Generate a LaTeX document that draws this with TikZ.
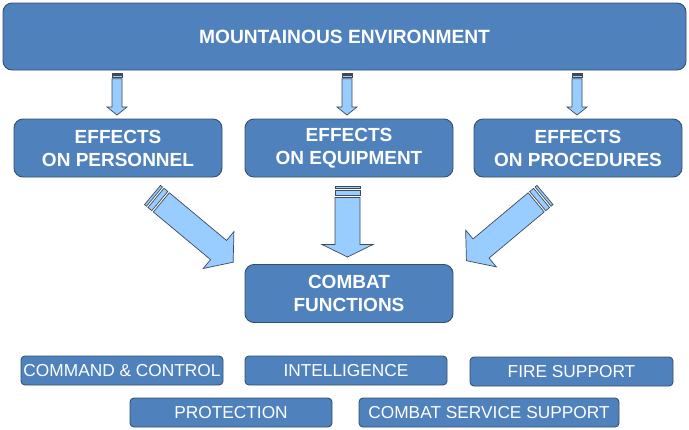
\documentclass[tikz,border=0pt]{standalone}
\usepackage{fontspec}
\setmainfont{Liberation Sans}
\definecolor{boxfill}{HTML}{4F81BD}
\definecolor{boxline}{HTML}{34506F}
\definecolor{arrfill}{HTML}{99CCFF}
\definecolor{arrline}{HTML}{3C4A5A}
\tikzset{
  bigbox/.style={draw=boxline, line width=0.9pt, fill=boxfill, rounded corners=9pt,
    text=white, align=center, inner sep=0pt, font=\fontsize{19}{23}\selectfont\bfseries},
  smallbox/.style={draw=boxline, line width=0.9pt, fill=boxfill, rounded corners=4pt,
    text=white, align=center, inner sep=0pt, minimum height=29pt, font=\fontsize{17.3}{20}\selectfont},
  arrowpart/.style={draw=arrline, line width=0.7pt, fill=arrfill, line join=miter}
}
% #1 tail coordinate, #2 angle, #3 length, #4 half shaft width, #5 half head width, #6 head length, #7 stripe scale
\newcommand{\stripedarrow}[7]{%
  \begin{scope}[shift={#1}, rotate=#2]
    \draw[arrowpart] (0,-#4) rectangle ({2.5*#7},#4);
    \draw[arrowpart] ({4.5*#7},-#4) rectangle ({9.5*#7},#4);
    \draw[arrowpart] ({11.5*#7},-#4) -- ({#3-#6},-#4) -- ({#3-#6},-#5) -- (#3,0)
      -- ({#3-#6},#5) -- ({#3-#6},#4) -- ({11.5*#7},#4) -- cycle;
  \end{scope}}
\begin{document}
\begin{tikzpicture}[x=1pt,y=-1pt]
\useasboundingbox (0,0) rectangle (689,429);
\fill[white] (0,0) rectangle (689,429);

\node[bigbox, minimum width=683pt, minimum height=67pt, font=\fontsize{19.2}{23}\selectfont\bfseries] (env) at (344.5,36.5) {MOUNTAINOUS ENVIRONMENT};

\node[bigbox, minimum width=208pt, minimum height=58pt] (per) at (118,148) {EFFECTS\\ON PERSONNEL};
\node[bigbox, minimum width=208pt, minimum height=58pt] (equ) at (349,148) {EFFECTS\\ON EQUIPMENT};
\node[bigbox, minimum width=208pt, minimum height=58pt] (pro) at (578,148) {EFFECTS\\ON PROCEDURES};
\node[bigbox, minimum width=208pt, minimum height=58pt] (cf) at (349,293.5) {COMBAT\\FUNCTIONS};

\node[smallbox, minimum width=202pt] (cc) at (122,370.5) {COMMAND \& CONTROL};
\node[smallbox, minimum width=202pt] (int) at (346,370.5) {INTELLIGENCE};
\node[smallbox, minimum width=203pt] (fs) at (571.5,371.5) {FIRE SUPPORT};
\node[smallbox, minimum width=202pt] (prot) at (231,412.5) {PROTECTION};
\node[smallbox, minimum width=260pt] (css) at (489,412.5) {COMBAT SERVICE SUPPORT};

% tails of the block arrows
\coordinate (t1) at (117,73);
\coordinate (t2) at (347,73);
\coordinate (t3) at (577,73);
\coordinate (t4) at (152.5,195);
\coordinate (t5) at (347.5,186);
\coordinate (t6) at (545,195);

\stripedarrow{(t1)}{-90}{42}{5}{10}{8}{0.5}
\stripedarrow{(t2)}{-90}{42}{5}{10}{8}{0.5}
\stripedarrow{(t3)}{-90}{42}{5}{10}{8}{0.5}
\stripedarrow{(t4)}{-39.8}{105}{12.5}{24}{19}{1}
\stripedarrow{(t5)}{-90}{71}{12.5}{25.5}{12.5}{1}
\stripedarrow{(t6)}{-140.1}{102.4}{12.5}{24}{19}{1}
\end{tikzpicture}
\end{document}
